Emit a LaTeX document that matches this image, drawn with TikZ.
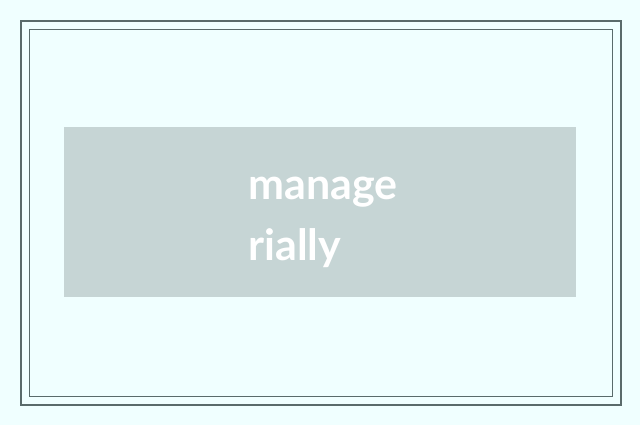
\documentclass[tikz,border=0pt]{standalone}
\usepackage{fontspec}
\setmainfont{Lato}
\definecolor{bgcol}{HTML}{F0FFFF}
\definecolor{framecol}{HTML}{5A6B6B}
\definecolor{boxcol}{HTML}{C6D5D5}
\tikzset{
  word/.style={anchor=base west,inner sep=0pt,text=white,font=\fontsize{43}{52}\selectfont\bfseries}
}
\begin{document}
\begin{tikzpicture}[x=1pt,y=-1pt]
\fill[bgcol] (0,0) rectangle (640,425);
\useasboundingbox (0,0) rectangle (640,425);
\draw[framecol,line width=2pt] (21,21) rectangle (621,405);
\draw[framecol,line width=1pt] (29.5,29.5) rectangle (612.5,396.5);
\fill[boxcol] (64,127) rectangle (576,297);
\node[word] (manage) at (248,199) {manage};
\node[word] (rially) at (248,260) {rially};
\end{tikzpicture}
\end{document}
